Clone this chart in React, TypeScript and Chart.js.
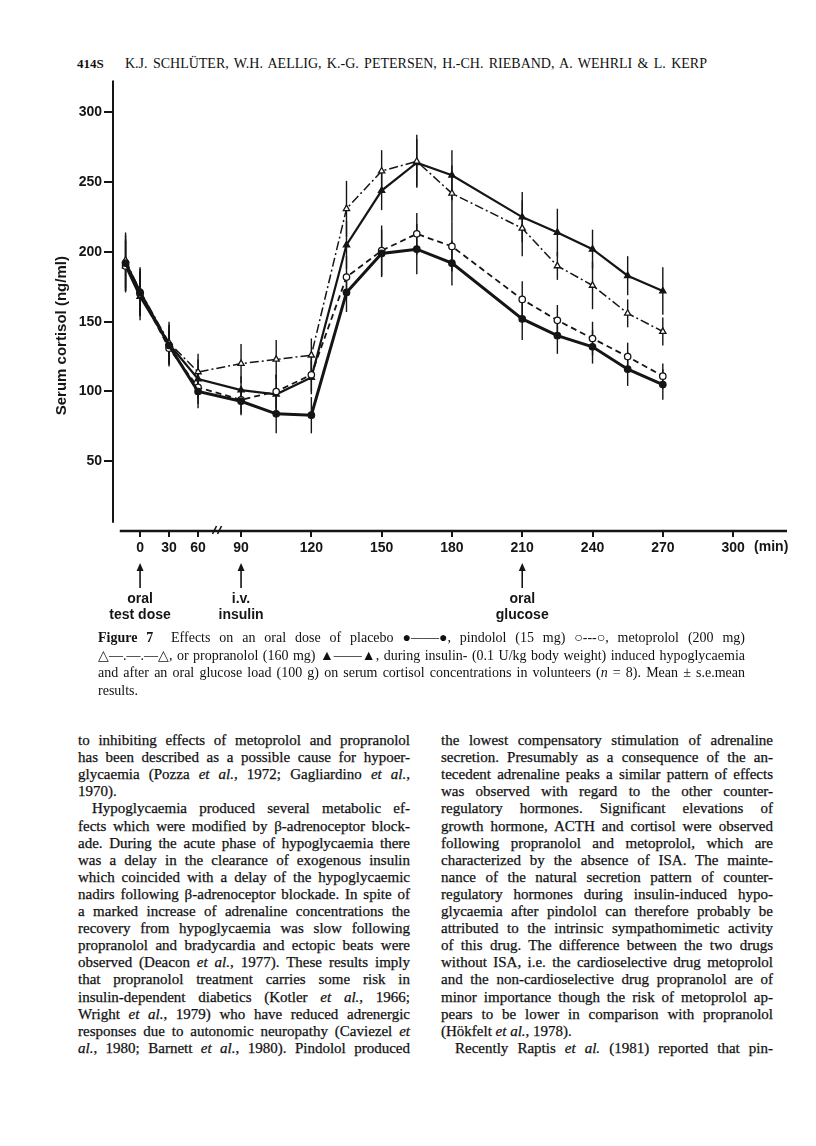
import React, { useEffect, useLayoutEffect, useRef } from "react";
import { Chart, registerables, LinearScale } from "chart.js";

Chart.register(...registerables);

// ---------------- data ----------------
const times = [-15, 0, 30, 60, 90, 105, 120, 135, 150, 165, 180, 210, 225, 240, 255, 270];

const placebo = [192, 171, 133, 100, 93, 84, 83, 171, 199, 202, 192, 152, 140, 132, 116, 105];
const placeboSem = [20, 17, 14, 12, 10, 14, 13, 14, 17, 18, 16, 15, 13, 12, 12, 11];

const pindolol = [190, 170, 131, 103, 94, 100, 112, 182, 201, 213, 204, 166, 151, 138, 125, 111];
const pindololSem = [18, 16, 13, 12, 10, 12, 12, 15, 18, 15, 18, 13, 11, 12, 10, 9];

const metoprolol = [194, 172, 135, 114, 120, 123, 126, 231, 258, 265, 242, 217, 190, 176, 156, 143];
const metoprololSem = [20, 17, 15, 13, 14, 14, 12, 20, 15, 19, 20, 20, 10, 17, 10, 10];

const propranolol = [190, 168, 134, 109, 101, 98, 110, 205, 244, 264, 255, 225, 214, 202, 183, 172];
const propranololSem = [19, 17, 14, 14, 10, 14, 12, 17, 14, 17, 18, 18, 17, 14, 14, 17];

const xTickTimes = [0, 30, 60, 90, 120, 150, 180, 210, 240, 270, 300];
const yTickValues = [50, 100, 150, 200, 250, 300];
const annotTimes = [0, 90, 210];
const annotLabels = [["oral", "test dose"], ["i.v.", "insulin"], ["oral", "glucose"]];
const xUnitLabel = "(min)";
const yTitle = "Serum cortisol (ng/ml)";

// ---------------- broken time axis ----------------
const BREAK_START = 60;
const BREAK_END = 90;
const BREAK_GAP = 18.35;
const PRE_BREAK_RATIO = 0.4125;

function toAxisPos(t: number): number {
  if (t >= BREAK_END) return t;
  const a = BREAK_END - BREAK_GAP;
  if (t <= BREAK_START) return a - (BREAK_START - t) * PRE_BREAK_RATIO;
  return a + ((t - BREAK_START) / (BREAK_END - BREAK_START)) * BREAK_GAP;
}

class BrokenTimeScale extends LinearScale {
  static id = "brokenTime";
  static defaults = {};
  getPixelForValue(value: number) {
    const a = toAxisPos((this as any).min);
    const b = toAxisPos((this as any).max);
    return (this as any).getPixelForDecimal((toAxisPos(value) - a) / (b - a));
  }
}
Chart.register(BrokenTimeScale as any);

const INK = "#151515";
const SANS = "'Liberation Sans', Arial, sans-serif";

const series = [
  { label: "placebo", values: placebo, sem: placeboSem, width: 3, dash: [] as number[], style: "circle", filled: true },
  { label: "pindolol", values: pindolol, sem: pindololSem, width: 1.8, dash: [6, 4], style: "circle", filled: false },
  { label: "metoprolol", values: metoprolol, sem: metoprololSem, width: 1.5, dash: [9, 3, 2, 3], style: "triangle", filled: false },
  { label: "propranolol", values: propranolol, sem: propranololSem, width: 2.2, dash: [] as number[], style: "triangle", filled: true },
];

const paperPlugin = {
  id: "paper",
  beforeDatasetsDraw(chart: any) {
    const ctx = chart.ctx;
    const y = chart.scales.y;
    ctx.save();
    ctx.strokeStyle = INK;
    ctx.lineWidth = 1.4;
    chart.data.datasets.forEach((ds: any, i: number) => {
      const meta = chart.getDatasetMeta(i);
      meta.data.forEach((pt: any, j: number) => {
        const v = ds.data[j].y;
        const e = ds.sem[j];
        ctx.beginPath();
        ctx.moveTo(pt.x, y.getPixelForValue(v - e));
        ctx.lineTo(pt.x, y.getPixelForValue(v + e));
        ctx.stroke();
      });
    });
    ctx.restore();
  },
  afterDraw(chart: any) {
    const ctx = chart.ctx;
    const xs = chart.scales.x;
    const ys = chart.scales.y;
    const area = chart.chartArea;
    ctx.save();
    ctx.strokeStyle = INK;
    ctx.fillStyle = INK;
    // y axis line (detached from x axis)
    ctx.lineWidth = 2;
    ctx.beginPath();
    ctx.moveTo(area.left, area.top);
    ctx.lineTo(area.left, ys.getPixelForValue(6));
    ctx.stroke();
    // x axis line
    ctx.lineWidth = 2.4;
    ctx.beginPath();
    ctx.moveTo(xs.getPixelForValue(-21), area.bottom);
    ctx.lineTo(area.right, area.bottom);
    ctx.stroke();
    // break marks
    const bx = (xs.getPixelForValue(BREAK_START) + xs.getPixelForValue(BREAK_END)) / 2 - 2;
    ctx.lineWidth = 1.6;
    for (const dx of [-3, 2]) {
      ctx.beginPath();
      ctx.moveTo(bx + dx - 2, area.bottom + 3);
      ctx.lineTo(bx + dx + 2, area.bottom - 5);
      ctx.stroke();
    }
    // unit label
    ctx.font = `bold 14px ${SANS}`;
    ctx.textAlign = "left";
    ctx.textBaseline = "top";
    ctx.fillText(xUnitLabel, xs.getPixelForValue(300) + 21, area.bottom + 9);
    // annotations
    ctx.textAlign = "center";
    ctx.textBaseline = "middle";
    annotTimes.forEach((t, i) => {
      const x = xs.getPixelForValue(t);
      const top = area.bottom + 32;
      const bot = area.bottom + 57;
      ctx.lineWidth = 1.6;
      ctx.beginPath();
      ctx.moveTo(x, top + 4);
      ctx.lineTo(x, bot);
      ctx.stroke();
      ctx.beginPath();
      ctx.moveTo(x, top);
      ctx.lineTo(x - 3.5, top + 8);
      ctx.lineTo(x + 3.5, top + 8);
      ctx.closePath();
      ctx.fill();
      ctx.font = `bold 14px ${SANS}`;
      ctx.fillText(annotLabels[i][0], x, area.bottom + 68);
      ctx.fillText(annotLabels[i][1], x, area.bottom + 84);
    });
    // y title
    ctx.save();
    ctx.translate(area.left - 51, ys.getPixelForValue(140));
    ctx.rotate(-Math.PI / 2);
    ctx.font = `bold 15px ${SANS}`;
    ctx.textAlign = "center";
    ctx.textBaseline = "middle";
    ctx.fillText(yTitle, 0, 0);
    ctx.restore();
    ctx.restore();
  },
};

function CortisolChart() {
  const ref = useRef<HTMLCanvasElement>(null);
  useEffect(() => {
    const chart = new Chart(ref.current as HTMLCanvasElement, {
      type: "line",
      data: {
        datasets: series.map((s) => ({
          label: s.label,
          data: times.map((t, i) => ({ x: t, y: s.values[i] })),
          sem: s.sem,
          borderColor: INK,
          borderWidth: s.width,
          borderDash: s.dash,
          tension: 0,
          fill: false,
          pointStyle: s.style,
          pointRadius: s.style === "triangle" ? 3.6 : 3.2,
          pointBorderWidth: 1.3,
          pointBorderColor: INK,
          pointBackgroundColor: s.filled ? INK : "#ffffff",
        })) as any,
      },
      options: {
        animation: false,
        responsive: false,
        devicePixelRatio: 1,
        events: [],
        layout: { padding: { top: 10, right: 29, left: 0, bottom: 0 } },
        plugins: { legend: { display: false }, tooltip: { enabled: false } },
        scales: {
          x: {
            type: "brokenTime" as any,
            min: -28,
            max: 323,
            afterBuildTicks: (s: any) => {
              s.ticks = xTickTimes.map((v) => ({ value: v }));
            },
            afterFit: (s: any) => {
              s.height = 99;
            },
            border: { display: false },
            grid: { drawOnChartArea: false, drawTicks: true, tickLength: 6, color: INK, lineWidth: 2 },
            ticks: {
              autoSkip: false,
              maxRotation: 0,
              padding: 3,
              color: INK,
              font: { family: SANS, weight: "bold", size: 14 },
              callback: (v: any) => String(v),
            },
          } as any,
          y: {
            type: "linear",
            min: 0,
            max: 323,
            afterBuildTicks: (s: any) => {
              s.ticks = yTickValues.map((v) => ({ value: v }));
            },
            afterFit: (s: any) => {
              s.width = 113;
            },
            border: { display: false },
            grid: { drawOnChartArea: false, drawTicks: true, tickLength: 9, color: INK, lineWidth: 2 },
            ticks: {
              padding: 2,
              color: INK,
              font: { family: SANS, weight: "bold", size: 14 },
              callback: (v: any) => String(v),
            },
          } as any,
        },
      },
      plugins: [paperPlugin as any],
    });
    return () => chart.destroy();
  }, []);
  return (
    <canvas
      ref={ref}
      width={816}
      height={560}
      style={{ position: "absolute", left: 0, top: 70, width: 816, height: 560 }}
    />
  );
}

// ---------------- text ----------------
const headerPage = "414S";
const headerAuthors = "K.J. SCHLÜTER, W.H. AELLIG, K.-G. PETERSEN, H.-CH. RIEBAND, A. WEHRLI & L. KERP";

const captionLines = [
  "*Figure 7*  Effects on an oral dose of placebo ●——●, pindolol (15 mg) ○---○, metoprolol (200 mg)",
  "△—.—.—△, or propranolol (160 mg) ▲——▲, during insulin- (0.1 U/kg body weight) induced hypoglycaemia",
  "and after an oral glucose load (100 g) on serum cortisol concentrations in volunteers (_n_ = 8). Mean ± s.e.mean",
  "|results.",
];

// "|" = not justified (last line of a paragraph), ">" = paragraph indent
const leftColumn = [
  "to inhibiting effects of metoprolol and propranolol",
  "has been described as a possible cause for hypoer-",
  "glycaemia (Pozza _et al._, 1972; Gagliardino _et al._,",
  "|1970).",
  ">Hypoglycaemia produced several metabolic ef-",
  "fects which were modified by β-adrenoceptor block-",
  "ade. During the acute phase of hypoglycaemia there",
  "was a delay in the clearance of exogenous insulin",
  "which coincided with a delay of the hypoglycaemic",
  "nadirs following β-adrenoceptor blockade. In spite of",
  "a marked increase of adrenaline concentrations the",
  "recovery from hypoglycaemia was slow following",
  "propranolol and bradycardia and ectopic beats were",
  "observed (Deacon _et al._, 1977). These results imply",
  "that propranolol treatment carries some risk in",
  "insulin-dependent diabetics (Kotler _et al._, 1966;",
  "Wright _et al._, 1979) who have reduced adrenergic",
  "responses due to autonomic neuropathy (Caviezel _et_",
  "_al._, 1980; Barnett _et al._, 1980). Pindolol produced",
];

const rightColumn = [
  "the lowest compensatory stimulation of adrenaline",
  "secretion. Presumably as a consequence of the an-",
  "tecedent adrenaline peaks a similar pattern of effects",
  "was observed with regard to the other counter-",
  "regulatory hormones. Significant elevations of",
  "growth hormone, ACTH and cortisol were observed",
  "following propranolol and metoprolol, which are",
  "characterized by the absence of ISA. The mainte-",
  "nance of the natural secretion pattern of counter-",
  "regulatory hormones during insulin-induced hypo-",
  "glycaemia after pindolol can therefore probably be",
  "attributed to the intrinsic sympathomimetic activity",
  "of this drug. The difference between the two drugs",
  "without ISA, i.e. the cardioselective drug metoprolol",
  "and the non-cardioselective drug propranolol are of",
  "minor importance though the risk of metoprolol ap-",
  "pears to be lower in comparison with propranolol",
  "|(Hökfelt _et al._, 1978).",
  ">Recently Raptis _et al._ (1981) reported that pin-",
];

function parseMarkup(s: string): React.ReactNode[] {
  const out: React.ReactNode[] = [];
  let italic = false;
  let bold = false;
  let buf = "";
  const flush = () => {
    if (buf) {
      out.push(
        <span key={out.length} style={{ fontStyle: italic ? "italic" : "normal", fontWeight: bold ? "bold" : "normal" }}>
          {buf}
        </span>
      );
      buf = "";
    }
  };
  for (const ch of s) {
    if (ch === "_") {
      flush();
      italic = !italic;
    } else if (ch === "*") {
      flush();
      bold = !bold;
    } else buf += ch;
  }
  flush();
  return out;
}

function FitLine(props: { text: string; width: number; left: number; top: number; justify: boolean; font: React.CSSProperties }) {
  const inner = useRef<HTMLSpanElement>(null);
  useLayoutEffect(() => {
    const fit = () => {
      const s = inner.current;
      if (!s) return;
      s.style.wordSpacing = "0px";
      s.style.transform = "none";
      const w = s.getBoundingClientRect().width;
      if (w > props.width) {
        s.style.transform = `scaleX(${props.width / w})`;
      } else if (props.justify) {
        const n = ((s.textContent || "").match(/ /g) || []).length;
        if (n > 0) s.style.wordSpacing = `${(props.width - w) / n}px`;
      }
    };
    fit();
    const f = (document as any).fonts;
    if (f && f.ready) f.ready.then(fit);
  }, [props.text, props.width, props.justify]);
  return (
    <div style={{ position: "absolute", left: props.left, top: props.top, width: props.width, whiteSpace: "pre", ...props.font }}>
      <span ref={inner} style={{ display: "inline-block", transformOrigin: "left center" }}>
        {parseMarkup(props.text)}
      </span>
    </div>
  );
}

const serif = "'Liberation Serif', 'Times New Roman', serif";
const bodyFont: React.CSSProperties = { fontFamily: serif, fontSize: 15, lineHeight: "17px", color: "#111", WebkitTextStroke: "0.25px #111" } as any;
const captionFont: React.CSSProperties = { fontFamily: serif, fontSize: 14, lineHeight: "17px", color: "#111" };

function Column({ lines, left, width, top }: { lines: string[]; left: number; width: number; top: number }) {
  return (
    <>
      {lines.map((raw, i) => {
        let t = raw;
        let justify = true;
        let indent = 0;
        if (t.startsWith("|")) {
          justify = false;
          t = t.slice(1);
        }
        if (t.startsWith(">")) {
          indent = 14;
          t = t.slice(1);
        }
        return (
          <FitLine key={i} text={t} width={width - indent} left={left + indent} top={top + i * 17.1} justify={justify} font={bodyFont} />
        );
      })}
    </>
  );
}

export default function App() {
  return (
    <div style={{ position: "absolute", left: 0, top: 0, width: 816, height: 1146, background: "#fff", overflow: "hidden" }}>
      <div style={{ position: "absolute", left: 77, top: 56, fontFamily: serif, fontSize: 13, fontWeight: "bold", lineHeight: "16px", color: "#111" }}>
        {headerPage}
      </div>
      <FitLine text={headerAuthors} width={582} left={125} top={56} justify={true} font={{ fontFamily: serif, fontSize: 14, lineHeight: "16px", color: "#111" }} />
      <CortisolChart />
      {captionLines.map((raw, i) => {
        const justify = !raw.startsWith("|");
        const t = justify ? raw : raw.slice(1);
        return <FitLine key={i} text={t} width={647} left={98} top={629 + i * 17.6} justify={justify} font={captionFont} />;
      })}
      <Column lines={leftColumn} left={78} width={332} top={732} />
      <Column lines={rightColumn} left={441} width={332} top={732} />
    </div>
  );
}
